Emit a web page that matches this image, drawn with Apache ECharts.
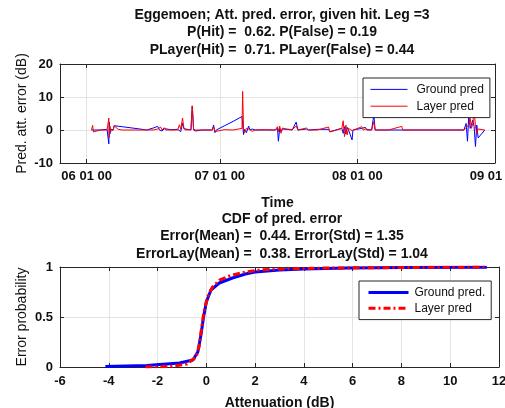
<!DOCTYPE html>
<html lang="en">
<head>
<meta charset="UTF-8">
<title>Eggemoen prediction error</title>
<script src="https://cdn.jsdelivr.net/npm/echarts@6/dist/echarts.min.js"></script>
<style type="text/css">
    *{margin:0;padding:0;border:none}
    html,body{width:100%;height:100%;background:#fff;overflow:hidden}
    #main{width:505px;height:408px}
</style>
</head>
<body>
<div id="main"></div>
<script type="text/javascript">
// sample times, in days after 01 June 00:00
var dayOffset = [1.10, 1.35, 1.55, 1.75, 3.0, 4.6, 4.85, 5.00, 5.12, 5.25, 5.40, 5.55, 6.00, 6.20, 7.10, 8.00, 10.0, 12.0, 13.5,
    15.0, 16.0, 16.4, 16.7, 17.0, 17.5, 17.8, 19.0, 20.5, 20.9, 21.2, 21.6, 21.9, 22.2, 23.5, 23.8, 24.1, 24.6, 26.0,
    28.3, 28.6, 28.9, 29.2, 31.0, 33.0, 35.0, 35.15, 35.35, 35.6, 36.0, 36.5, 36.8, 37.3, 38.0, 40.0, 42.5,
    43.0, 43.2, 43.5, 43.8, 44.1, 44.4, 45.0, 45.3, 46.3, 47.2, 47.6, 49.5, 50.0, 52.0, 54.5, 54.8, 55.2,
    57.5, 57.8, 58.1, 58.4, 58.7, 59.0, 59.8, 60.0, 62.0, 62.3, 62.8, 63.1, 64.2, 64.7, 65.0, 68.0, 71.0, 71.2,
    78.0, 85.0, 85.5, 85.8, 86.1, 86.4, 86.7, 87.0, 87.3, 87.6, 87.9, 88.2, 89.7];
var groundErr = [0, 0, 0, 0, 0, 0.2, 0.6, -4.2, 2.4, -1.2, 0.3, 0, 0, 1.3, 1.15, 1.0, 0.65, 0.3, 0,
    0.6, 1.1, 0, 0.6, -0.3, 0.4, 0, 0.1, 0.2, 0.3, -0.5, 2.0, 0.4, 0, 0, 7.3, 0, -0.3, 0,
    0, 1.5, -0.8, 0, 1.25, 2.6, 4.1, 4.6, -1.4, 0.2, -0.8, 1.2, 0, 0.3, 0, 0, 0,
    0.5, -3.4, 0.5, -0.6, 0.3, 0, 0.2, -0.3, 0, 2.4, 0, 0.3, 0, 0.2, 0.2, -0.5, 0,
    0.5, -1.0, 1.0, -1.2, 0.8, 0, -3.0, 0, 0.5, 0, 0.8, 0, 0, 4.5, 0, 0, 0, 0,
    0, 0, 2.0, -3.4, 4.5, 0.5, 0, 3.0, 1.0, -5.0, 1.5, -2.4, 0];
var layerErr = [0, 1.4, -0.6, 0, 0, 0, 0.4, 3.6, -2.2, 1.2, -0.4, 0, 0, 1.3, 0.2, 0, 0, 0, 0,
    0, 0.3, 0, 0.9, 0, 0.7, 0, 0, 0, 1.6, 0.2, 3.6, 0.8, 0, 0.1, 7.3, 0.2, 0, 0,
    0, 1.0, -0.5, 0, 0.1, 0, 0.5, 11.7, 0.3, -0.8, 0.5, 0.3, 0.9, -0.4, 0, 0.1, 0,
    1.0, -0.5, 1.2, -1.0, 0.6, 0, 0.3, 0, 0.1, 1.2, 0, 0.6, 0, 0, 0.9, -0.6, 0,
    0.5, 2.8, -2.0, 1.5, -1.5, 0.5, -0.2, 0, 1.0, 0, 0.3, 0, 0, 2.5, 0, 0, 1.1, 0,
    0, 0, 0.8, 0.5, 1.5, 3.5, 0.5, 2.0, 6.0, 1.0, -1.0, 0.3, 0];

// month ticks of the time axis (days after 01 June) and their labels
var monthTickDays = [0, 30, 61, 92];
var monthTickLabels = ['06 01 00', '07 01 00', '08 01 00', '09 01 00'];

// CDF of the prediction error
var cdfGroundX = [-4.14, -2.45, -1.1, -0.55, -0.35, -0.22, -0.12, 0, 0.19, 0.53, 1.07, 1.6, 2.0, 3.0, 4.0, 5.8, 8.0, 11.5];
var cdfGroundP = [0.005, 0.015, 0.04, 0.07, 0.15, 0.32, 0.49, 0.65, 0.77, 0.84, 0.89, 0.93, 0.95, 0.97, 0.98, 0.99, 0.995, 0.997];
var cdfLayerX = [-2.5, -1.5, -0.8, -0.42, -0.3, -0.2, -0.1, 0.05, 0.25, 0.55, 1.0, 1.6, 2.2, 3.0, 5.0, 8.0, 11.5];
var cdfLayerP = [0, 0.005, 0.03, 0.1, 0.2, 0.38, 0.55, 0.7, 0.8, 0.87, 0.915, 0.95, 0.97, 0.98, 0.99, 0.995, 1.0];

var titleTop = ['Eggemoen; Att. pred. error, given hit. Leg =3',
    'P(Hit) =  0.62. P(False) = 0.19',
    'PLayer(Hit) =  0.71. PLayer(False) = 0.44'];
var titleBottom = ['CDF of pred. error',
    'Error(Mean) =  0.44. Error(Std) = 1.35',
    'ErrorLay(Mean) =  0.38. ErrorLay(Std) = 1.04'];

var FONT = '"Liberation Sans", Arial, sans-serif';
var AX = '#262626';
var GRID = '#e3e3e3';

var groundData = dayOffset.map(function (d, i) { return [d, groundErr[i]]; });
var layerData = dayOffset.map(function (d, i) { return [d, layerErr[i]]; });
var cdfGround = cdfGroundX.map(function (x, i) { return [x, cdfGroundP[i]]; });
var cdfLayer = cdfLayerX.map(function (x, i) { return [x, cdfLayerP[i]]; });

var lblStyle = {color: '#111', fontFamily: FONT, fontSize: 13, fontWeight: 'bold'};
var axLine = {onZero: false, lineStyle: {color: AX}};

function titleLines(lines, y0) {
    return lines.map(function (t, i) {
        return {
            type: 'text', x: 282, y: y0 + i * 17.5,
            style: {text: t, textAlign: 'center', textVerticalAlign: 'middle',
                font: 'bold 14px ' + FONT, fill: '#111'}
        };
    });
}

var myChart = echarts.init(document.getElementById('main'));
var option = {
    animation: false,
    backgroundColor: '#fff',
    graphic: titleLines(titleTop, 15).concat(titleLines(titleBottom, 219)),
    grid: [
        {left: 60, top: 64, width: 435, height: 99, outerBoundsMode: 'none', containLabel: false},
        {left: 60, top: 267, width: 439, height: 100, outerBoundsMode: 'none', containLabel: false}
    ],
    legend: [
        {
            data: ['Ground pred', 'Layer pred'],
            orient: 'vertical', left: 363, top: 78,
            padding: [5, 6, 5, 7], itemGap: 4, itemWidth: 37, itemHeight: 16,
            itemStyle: {opacity: 0, borderWidth: 0},
            lineStyle: {width: 1},
            backgroundColor: '#fff', borderColor: AX, borderWidth: 1,
            textStyle: {fontFamily: FONT, fontSize: 12, color: '#111', padding: [0, 0, 0, 4]}
        },
        {
            data: ['Ground pred.', 'Layer pred '],
            orient: 'vertical', left: 359, top: 281,
            padding: [5, 6, 5, 8], itemGap: 3, itemWidth: 40, itemHeight: 16,
            itemStyle: {opacity: 0, borderWidth: 0},
            lineStyle: {width: 3},
            backgroundColor: '#fff', borderColor: AX, borderWidth: 1,
            textStyle: {fontFamily: FONT, fontSize: 12, color: '#111', padding: [0, 0, 0, 1]}
        }
    ],
    xAxis: [
        {
            type: 'value', gridIndex: 0, min: -6, max: 92,
            name: 'Time', nameLocation: 'middle', nameGap: 33,
            nameTextStyle: {fontFamily: FONT, fontSize: 14, fontWeight: 'bold', color: '#111'},
            axisLine: axLine,
            axisTick: {inside: true, length: 4, customValues: monthTickDays, lineStyle: {color: AX}},
            axisLabel: Object.assign({
                customValues: monthTickDays, margin: 7, hideOverlap: false,
                formatter: function (v) { return monthTickLabels[monthTickDays.indexOf(v)]; }
            }, lblStyle),
            splitLine: {show: true, lineStyle: {color: GRID}}
        },
        {
            type: 'value', gridIndex: 0, position: 'top', min: -6, max: 92,
            axisLine: axLine,
            axisTick: {inside: true, length: 4, customValues: monthTickDays, lineStyle: {color: AX}},
            axisLabel: {show: false}, splitLine: {show: false}
        },
        {
            type: 'value', gridIndex: 1, min: -6, max: 12, interval: 2,
            name: 'Attenuation (dB)', nameLocation: 'middle', nameGap: 29,
            nameTextStyle: {fontFamily: FONT, fontSize: 14, fontWeight: 'bold', color: '#111'},
            axisLine: axLine,
            axisTick: {inside: true, length: 4, lineStyle: {color: AX}},
            axisLabel: Object.assign({margin: 8}, lblStyle),
            splitLine: {show: true, lineStyle: {color: GRID}}
        },
        {
            type: 'value', gridIndex: 1, position: 'top', min: -6, max: 12, interval: 2,
            axisLine: axLine,
            axisTick: {inside: true, length: 4, lineStyle: {color: AX}},
            axisLabel: {show: false}, splitLine: {show: false}
        }
    ],
    yAxis: [
        {
            type: 'value', gridIndex: 0, min: -10, max: 20, interval: 10,
            name: 'Pred. att. error (dB)', nameLocation: 'middle', nameGap: 31, nameMoveOverlap: false,
            nameTextStyle: {fontFamily: FONT, fontSize: 14, color: '#111'},
            axisLine: Object.assign({show: true}, axLine),
            axisTick: {show: true, inside: true, length: 4, lineStyle: {color: AX}},
            axisLabel: Object.assign({margin: 7}, lblStyle),
            splitLine: {show: true, lineStyle: {color: GRID}}
        },
        {
            type: 'value', gridIndex: 0, position: 'right', min: -10, max: 20, interval: 10,
            axisLine: Object.assign({show: true}, axLine),
            axisTick: {show: true, inside: true, length: 4, lineStyle: {color: AX}},
            axisLabel: {show: false}, splitLine: {show: false}
        },
        {
            type: 'value', gridIndex: 1, min: 0, max: 1, interval: 0.5,
            name: 'Error probability', nameLocation: 'middle', nameGap: 31, nameMoveOverlap: false,
            nameTextStyle: {fontFamily: FONT, fontSize: 14, color: '#111'},
            axisLine: Object.assign({show: true}, axLine),
            axisTick: {show: true, inside: true, length: 4, lineStyle: {color: AX}},
            axisLabel: Object.assign({margin: 7}, lblStyle),
            splitLine: {show: true, lineStyle: {color: GRID}}
        },
        {
            type: 'value', gridIndex: 1, position: 'right', min: 0, max: 1, interval: 0.5,
            axisLine: Object.assign({show: true}, axLine),
            axisTick: {show: true, inside: true, length: 4, lineStyle: {color: AX}},
            axisLabel: {show: false}, splitLine: {show: false}
        }
    ],
    series: [
        {
            name: 'Ground pred', type: 'line', xAxisIndex: 0, yAxisIndex: 0,
            data: groundData, symbol: 'none', color: '#0000ff',
            lineStyle: {width: 1, color: '#0000ff'}
        },
        {
            name: 'Layer pred', type: 'line', xAxisIndex: 0, yAxisIndex: 0,
            data: layerData, symbol: 'none', color: '#ff0000',
            lineStyle: {width: 1, color: '#ff0000'}
        },
        {
            name: 'Ground pred.', type: 'line', xAxisIndex: 2, yAxisIndex: 2,
            data: cdfGround, symbol: 'none', color: '#0000ff',
            lineStyle: {width: 3, color: '#0000ff'}
        },
        {
            name: 'Layer pred ', type: 'line', xAxisIndex: 2, yAxisIndex: 2,
            data: cdfLayer, symbol: 'none', color: '#ff0000',
            lineStyle: {width: 3, color: '#ff0000', type: [7, 3, 2, 3]}
        }
    ]
};
myChart.setOption(option);
</script>
</body>
</html>
